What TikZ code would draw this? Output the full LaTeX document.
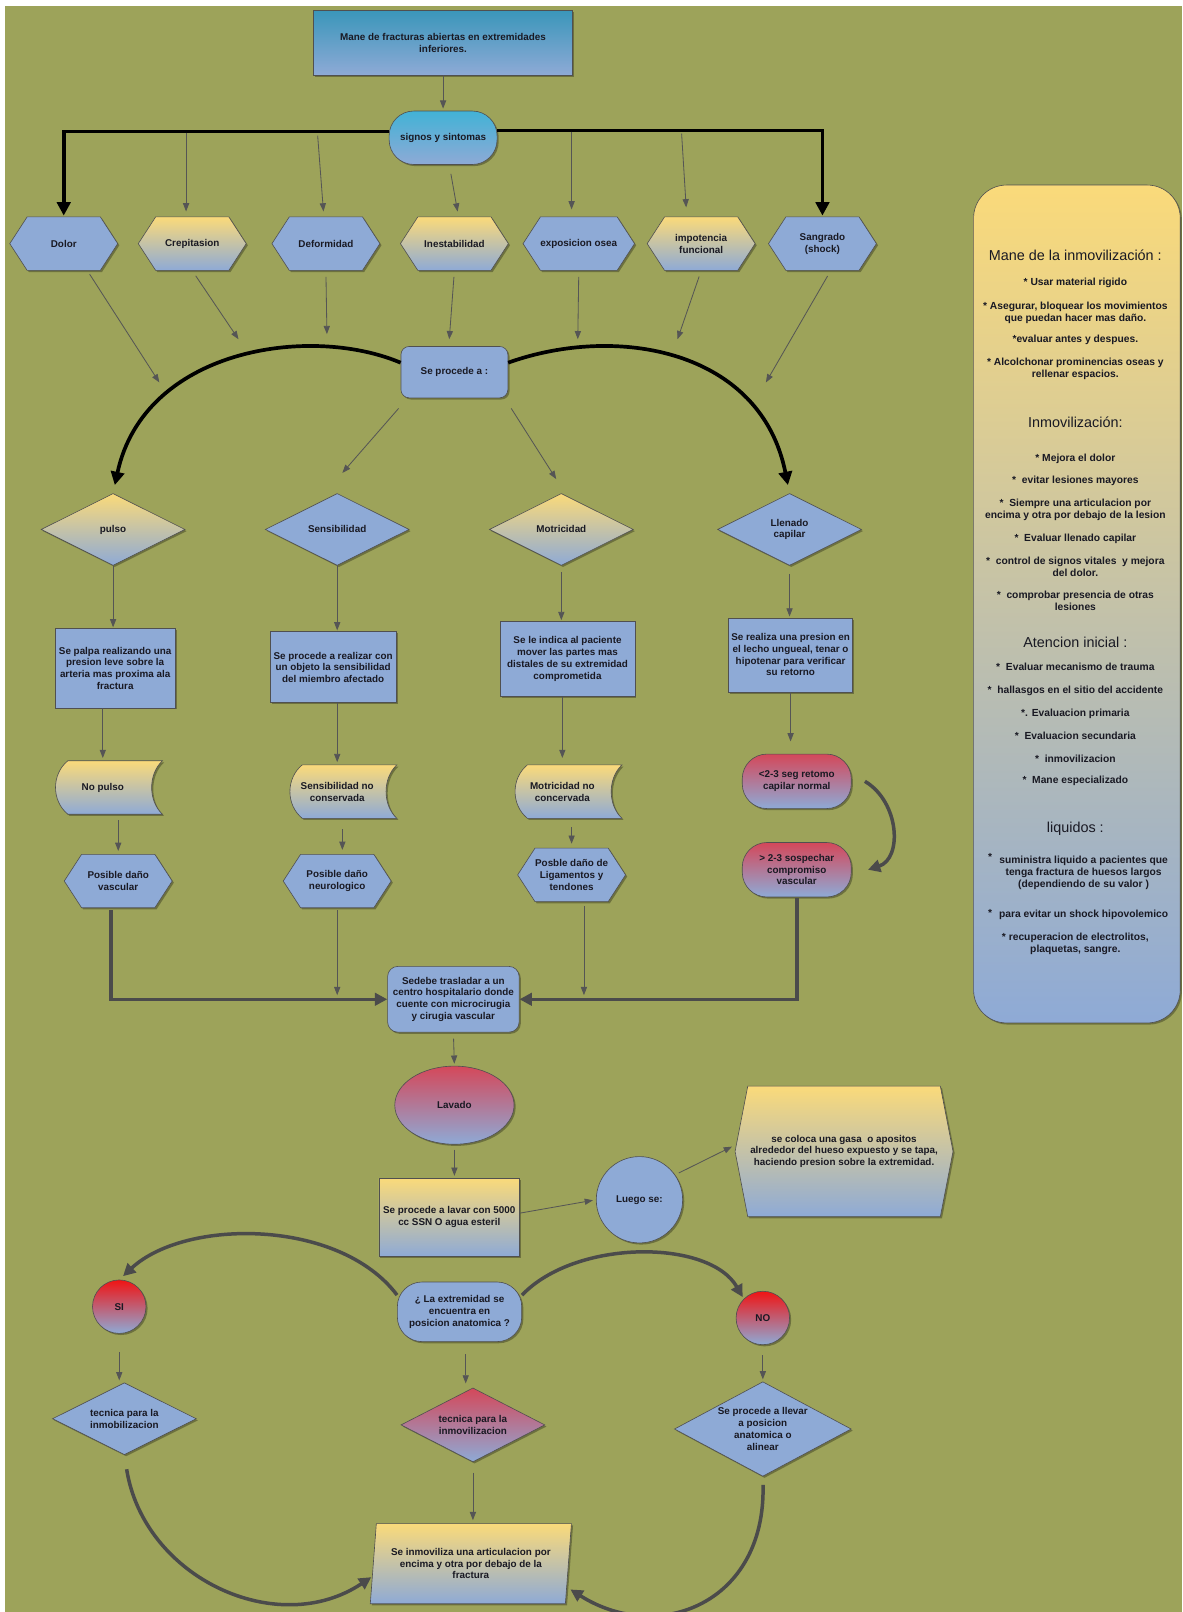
\documentclass[tikz,border=0pt]{standalone}
\usepackage{fontspec}
\setmainfont{Liberation Sans}
\usetikzlibrary{shapes.geometric,shapes.symbols,shapes.misc,shadows,arrows.meta,calc}
\pgfdeclarelayer{bg}
\pgfsetlayers{bg,main}
\definecolor{bgol}{RGB}{157,163,90}
\definecolor{nblue}{RGB}{142,170,214}
\definecolor{nyel}{RGB}{250,218,122}
\definecolor{nred}{RGB}{212,72,90}
\definecolor{pred}{RGB}{240,20,20}
\definecolor{teal1}{RGB}{58,150,186}
\definecolor{teal2}{RGB}{66,178,214}
\definecolor{edge}{RGB}{80,80,80}
\definecolor{txt}{RGB}{25,25,35}
\definecolor{arrt}{RGB}{85,85,85}
\definecolor{dgray}{RGB}{75,75,75}
\tikzset{
  nfont/.style={font=\bfseries\fontsize{9.6}{11.4}\selectfont},
  pfont/.style={font=\bfseries\fontsize{10}{11.6}\selectfont},
  shad/.style={drop shadow={shadow xshift=1.6pt,shadow yshift=-1.6pt,fill=black,opacity=0.3}},
  box/.style={draw=edge,line width=0.6pt,text=txt,align=center,inner sep=1pt,nfont,shad},
  fb/.style={fill=nblue},
  fyb/.style={top color=nyel,bottom color=nblue},
  frb/.style={top color=nred,bottom color=nblue},
  fsr/.style={top color=pred,bottom color=nblue},
  hexa/.style={box,signal,signal to=east and west,signal pointer angle=114,inner sep=0pt,minimum width=105pt,minimum height=52pt},
  dia/.style={box,diamond,aspect=2,inner sep=0pt,minimum width=140pt,minimum height=70pt},
  proc/.style={box,rectangle},
  pill/.style={box,rectangle,rounded corners=24pt},
  sdt/.style={rectangle,text=txt,align=center,nfont,inner sep=0pt,minimum width=90pt,minimum height=53pt},
  tarr/.style={draw=arrt,line width=0.8pt,-{Triangle[length=8pt,width=6pt]}},
  kblk/.style={draw=black,line width=3.6pt,-{Triangle[length=13pt,width=13pt]}},
  kgry/.style={draw=dgray,line width=3.4pt,-{Triangle[length=12pt,width=12pt]}},
  ptxt/.style={text=txt,align=center,pfont,inner sep=0pt},
  phead/.style={text=txt,font=\fontsize{14}{16}\selectfont,inner sep=0pt},
}
\newcommand\storedshape[2]{%
  \path[shad,draw=edge,line width=0.6pt,top color=nyel,bottom color=nblue]
   ($(#1)+(#2-40,-26)$) -- ($(#1)+(#2+52,-26)$)
   .. controls ($(#1)+(#2+38,-13)$) and ($(#1)+(#2+38,13)$) .. ($(#1)+(#2+52,26)$)
   -- ($(#1)+(#2-40,26)$)
   .. controls ($(#1)+(#2-56,13)$) and ($(#1)+(#2-56,-13)$) .. cycle;}
\begin{document}
\begin{tikzpicture}[x=1pt,y=-1pt]
\useasboundingbox (0,0) rectangle (1150,1568);
\begin{pgfonlayer}{bg}
\fill[white] (0,0) rectangle (1150,1568);
\fill[bgol] (5,6) rectangle (1150,1568);
\end{pgfonlayer}

% ---------- top
\node[box,rectangle,top color=teal1,bottom color=nblue,minimum width=252pt,minimum height=63pt] (title) at (431,41.5) {Mane de fracturas abiertas en extremidades\\inferiores.};
\node[pill,top color=teal2,bottom color=nblue,minimum width=105pt,minimum height=52pt] (sig) at (431,134) {signos y sintomas};

\node[hexa,fb] (dolor) at (62,237) {Dolor};
\node[hexa,fyb] (crep) at (187,237) {Crepitasion};
\node[hexa,fb] (defo) at (317,237) {Deformidad};
\node[hexa,fyb] (inest) at (442,237) {Inestabilidad};
\node[hexa,fb] (expo) at (563,237) {exposicion osea};
\node[hexa,fyb] (impo) at (682,237) {impotencia\\funcional};
\node[hexa,fb] (sang) at (800,237) {Sangrado\\(shock)};

\node[box,rectangle,rounded corners=8pt,fb,minimum width=104pt,minimum height=50pt] (proc) at (442,362) {Se procede a :};

\node[dia,fyb] (pulso) at (110,515) {pulso};
\node[dia,fb] (sens) at (328,515) {Sensibilidad};
\node[dia,fyb] (motr) at (546,515) {Motricidad};
\node[dia,fb] (llen) at (768,515) {Llenado\\capilar};

\node[proc,fb,minimum width=117pt,minimum height=77pt] (pb1) at (112,650) {Se palpa realizando una\\presion leve sobre la\\arteria mas proxima ala\\fractura};
\node[proc,fb,minimum width=123pt,minimum height=69pt] (pb2) at (324,649) {Se procede a realizar con\\un objeto la sensibilidad\\del miembro afectado};
\node[proc,fb,minimum width=131pt,minimum height=73pt] (pb3) at (552,641) {Se le indica al paciente\\mover las partes mas\\distales de su extremidad\\comprometida};
\node[proc,fb,minimum width=121pt,minimum height=72pt] (pb4) at (769,637) {Se realiza una presion en\\el lecho ungueal, tenar o\\hipotenar para verificar\\su retorno};

\node[sdt] (sd1) at (100,766) {No pulso};
\node[sdt] (sd2) at (328,770) {Sensibilidad no\\conservada};
\node[sdt] (sd3) at (547,770) {Motricidad no\\concervada};
\begin{pgfonlayer}{bg}
\storedshape{sd1}{6}
\storedshape{sd2}{6}
\storedshape{sd3}{6}
\end{pgfonlayer}

\node[pill,frb,minimum width=106pt,minimum height=53pt] (rp1) at (775,760) {<2-3 seg retomo\\capilar normal};
\node[pill,frb,minimum width=106pt,minimum height=53pt] (rp2) at (775,846) {> 2-3 sospechar\\compromiso\\vascular};

\node[hexa,fb] (hv) at (115,857) {Posible daño\\vascular};
\node[hexa,fb] (hn) at (328,857) {Posible daño\\neurologico};
\node[hexa,fb] (hl) at (556,851) {Posble daño de\\Ligamentos y\\tendones};

\node[box,rectangle,rounded corners=10pt,fb,minimum width=128pt,minimum height=64pt] (sedebe) at (441,972) {Sedebe trasladar a un\\centro hospitalario donde\\cuente con microcirugia\\y cirugia vascular};

\node[box,ellipse,frb,minimum width=116pt,minimum height=76pt] (lav) at (442,1075) {Lavado};
\node[proc,fyb,minimum width=137pt,minimum height=76pt] (lavar) at (437,1184) {Se procede a lavar con 5000\\cc SSN O agua esteril};
\node[box,circle,fb,minimum size=84pt] (luego) at (622,1167) {Luego se:};
\node[box,signal,signal to=east and west,signal pointer angle=158,fyb,inner sep=0pt,minimum width=212pt,minimum height=127pt] (gasa) at (821,1120) {se coloca una gasa\ \ o apositos\\alrededor del hueso expuesto y se tapa,\\haciendo presion sobre la extremidad.};

\node[pill,fb,minimum width=121pt,minimum height=58pt] (dec) at (447,1276) {¿ La extremidad se\\encuentra en\\posicion anatomica ?};
\node[box,circle,fsr,minimum size=52pt] (si) at (116,1271) {SI};
\node[box,circle,fsr,minimum size=52pt] (no) at (742,1282) {NO};

\node[dia,fb] (dl) at (121,1380) {tecnica para la\\inmobilizacion};
\node[dia,frb,minimum height=72pt] (dm) at (460,1386) {tecnica para la\\inmovilizacion};
\node[dia,fb,minimum width=172pt,minimum height=92pt] (dr) at (742,1390) {Se procede a llevar\\a posicion\\anatomica o\\alinear};

\node[box,trapezium,trapezium left angle=81,trapezium right angle=99,trapezium stretches=true,fyb,minimum width=196pt,minimum height=78pt] (para) at (458,1521) {Se inmoviliza una articulacion por\\encima y otra por debajo de la\\fractura};

% ---------- right panel
\node[box,rectangle,rounded corners=32pt,fyb,minimum width=201pt,minimum height=815pt] (panel) at (1047.5,587.5) {};
\node[phead] (h1) at (1046,248) {Mane de la inmovilización :};
\node[ptxt] (t1) at (1046,275) {* Usar material rigido};
\node[ptxt] (t2) at (1046,304) {* Asegurar, bloquear los movimientos\\que puedan hacer mas daño.};
\node[ptxt] (t3) at (1046,331) {*evaluar antes y despues.};
\node[ptxt] (t4) at (1046,359) {* Alcolchonar prominencias oseas y\\rellenar espacios.};
\node[phead] (h2) at (1046,411) {Inmovilización:};
\node[ptxt] (t5) at (1046,446) {* Mejora el dolor};
\node[ptxt] (t6) at (1046,468) {*\ \ evitar lesiones mayores};
\node[ptxt] (t7) at (1046,496) {*\ \ Siempre una articulacion por\\encima y otra por debajo de la lesion};
\node[ptxt] (t8) at (1046,524) {*\ \ Evaluar llenado capilar};
\node[ptxt] (t9) at (1046,551) {*\ \ control de signos vitales\ \ y mejora\\del dolor.};
\node[ptxt] (t10) at (1046,584) {*\ \ comprobar presencia de otras\\lesiones};
\node[phead] (h3) at (1046,625) {Atencion inicial :};
\node[ptxt] (t11) at (1046,649) {*\ \ Evaluar mecanismo de trauma};
\node[ptxt] (t12) at (1046,672) {*\ \ hallasgos en el sitio del accidente};
\node[ptxt] (t13) at (1046,694) {*. Evaluacion primaria};
\node[ptxt] (t14) at (1046,716) {*\ \ Evaluacion secundaria};
\node[ptxt] (t15) at (1046,738) {*\ \ inmovilizacion};
\node[ptxt] (t16) at (1046,760) {*\ \ Mane especializado};
\node[phead] (h4) at (1046,806) {liquidos :};
\node[ptxt] (s1) at (963,834) {*};
\node[ptxt] (t17) at (1054,849) {suministra liquido a pacientes que\\tenga fractura de huesos largos\\(dependiendo de su valor )};
\node[ptxt] (s2) at (963,888) {*};
\node[ptxt] (t18) at (1054,890) {para evitar un shock hipovolemico};
\node[ptxt] (t19) at (1046,918) {* recuperacion de electrolitos,\\plaquetas, sangre.};

% ---------- connectors top
\draw[tarr,shorten >=2pt] (title.south) -- (sig.north);
\draw[kblk,shorten >=1pt] ([yshift=6pt]sig.west) -| (dolor.north);
\draw[kblk,shorten >=1pt] ([yshift=7pt]sig.east) -| (sang.north);

\coordinate (c1) at (181,129);
\coordinate (c2) at (309,132);
\coordinate (c4) at (556,128);
\coordinate (c5) at (663,130);
\draw[tarr,shorten >=5pt] (c1) -- (c1 |- crep.north);
\draw[tarr,shorten >=5pt] (c2) -- ([xshift=-2pt]defo.north);
\draw[tarr,shorten <=9pt,shorten >=5pt] ([xshift=6pt]sig.south) -- ([xshift=4pt]inest.north);
\draw[tarr,shorten >=7pt] (c4) -- (c4 |- expo.north);
\draw[tarr,shorten >=9pt] (c5) -- ([xshift=-14pt]impo.north);

\coordinate (e1) at (155,372);
\coordinate (e2) at (232,330);
\coordinate (e3) at (318,325);
\coordinate (e4) at (437,330);
\coordinate (e5) at (562,330);
\coordinate (e6) at (659,330);
\coordinate (e7) at (745,372);
\draw[tarr,shorten <=4pt] ([xshift=23pt]dolor.south) -- (e1);
\draw[tarr,shorten <=6pt] (crep.south) -- (e2);
\draw[tarr,shorten <=6pt] (defo.south) -- (e3);
\draw[tarr,shorten <=6pt] (inest.south) -- (e4);
\draw[tarr,shorten <=6pt] (expo.south) -- (e5);
\draw[tarr,shorten <=6pt] (impo.south) -- (e6);
\draw[tarr,shorten <=6pt] ([xshift=8pt]sang.south) -- (e7);

\draw[kblk,shorten >=8pt] (proc.170) .. controls (300,315) and (140,340) .. (pulso.north);
\draw[kblk,shorten >=8pt] (proc.10) .. controls (600,315) and (740,340) .. (llen.north);
\coordinate (f1) at (333,460);
\coordinate (f2) at (541,466);
\draw[tarr] ([shift={(-2pt,-10pt)}]proc.south west) -- (f1);
\draw[tarr] ([shift={(3pt,-10pt)}]proc.south east) -- (f2);

% ---------- middle
\draw[tarr,shorten >=1pt] (pulso.south) -- (pulso.south |- pb1.north);
\draw[tarr,shorten >=1pt] (sens.south) -- (sens.south |- pb2.north);
\draw[tarr,shorten <=6pt,shorten >=1pt] (motr.south) -- (motr.south |- pb3.north);
\draw[tarr,shorten <=8pt,shorten >=1pt] (llen.south) -- (llen.south |- pb4.north);

\draw[tarr,shorten >=2pt] (pb1.south -| sd1.north) -- (sd1.north);
\draw[tarr,shorten >=2pt] (pb2.south -| sd2.north) -- (sd2.north);
\draw[tarr,shorten >=6pt] (pb3.south -| sd3.north) -- (sd3.north);
\draw[tarr,shorten >=12pt] (pb4.south) -- (pb4.south |- rp1.north);

\draw[tarr,shorten <=5pt,shorten >=3pt] (hv.north |- sd1.south) -- (hv.north);
\draw[tarr,shorten <=10pt,shorten >=4pt] ([xshift=5pt]sd2.south) -- ([xshift=5pt]hn.north);
\draw[tarr,shorten <=8pt,shorten >=4pt] (hl.north |- sd3.south) -- (hl.north);

\draw[kgry] ([xshift=13pt]rp1.east) .. controls (875,780) and (878,835) .. ([xshift=16pt]rp2.east);

\coordinate (g1) at (328,968);
\coordinate (g2) at (568,968);
\draw[kgry,shorten <=2pt] ([xshift=-7pt]hv.south) |- (sedebe.west);
\draw[tarr,shorten <=2pt] (hn.south) -- (g1);
\draw[tarr,shorten <=4pt] ([xshift=12pt]hl.south) -- (g2);
\draw[kgry,shorten <=1pt] (rp2.south) |- (sedebe.east);

% ---------- bottom
\draw[tarr,shorten <=6pt,shorten >=2pt] (sedebe.south) -- (lav.north);
\draw[tarr,shorten <=5pt,shorten >=2pt] (lav.south) -- (lavar.north -| lav.south);
\draw[tarr,shorten >=3pt] ([yshift=4pt]lavar.east) -- (luego.west);
\draw[tarr,shorten <=4pt,shorten >=3pt] (luego.35) -- ([yshift=6pt]gasa.west);

\draw[kgry,shorten >=5pt] (dec.165) .. controls (330,1185) and (180,1185) .. (si.north);
\draw[kgry,shorten >=2pt] (dec.15) .. controls (560,1205) and (690,1205) .. (no.north west);

\coordinate (dd) at ([xshift=6pt]dec.south);
\draw[tarr,shorten <=12pt,shorten >=4pt] (dd) -- (dd |- dm.north);
\draw[tarr,shorten <=18pt,shorten >=2pt] (si.south) -- (si.south |- dl.north);
\draw[tarr,shorten <=10pt,shorten >=2pt] (no.south) -- (dr.north);
\draw[tarr,shorten <=10pt,shorten >=3pt] (dm.south) -- (dm.south |- para.north);

\draw[kgry,shorten <=14pt,shorten >=2pt] (dl.south) .. controls (140,1535) and (270,1595) .. ([yshift=-12pt]para.west);
\draw[kgry,shorten <=8pt,shorten >=2pt] (dr.south) .. controls (745,1560) and (640,1600) .. ([yshift=-24pt]para.east);
\end{tikzpicture}
\end{document}
